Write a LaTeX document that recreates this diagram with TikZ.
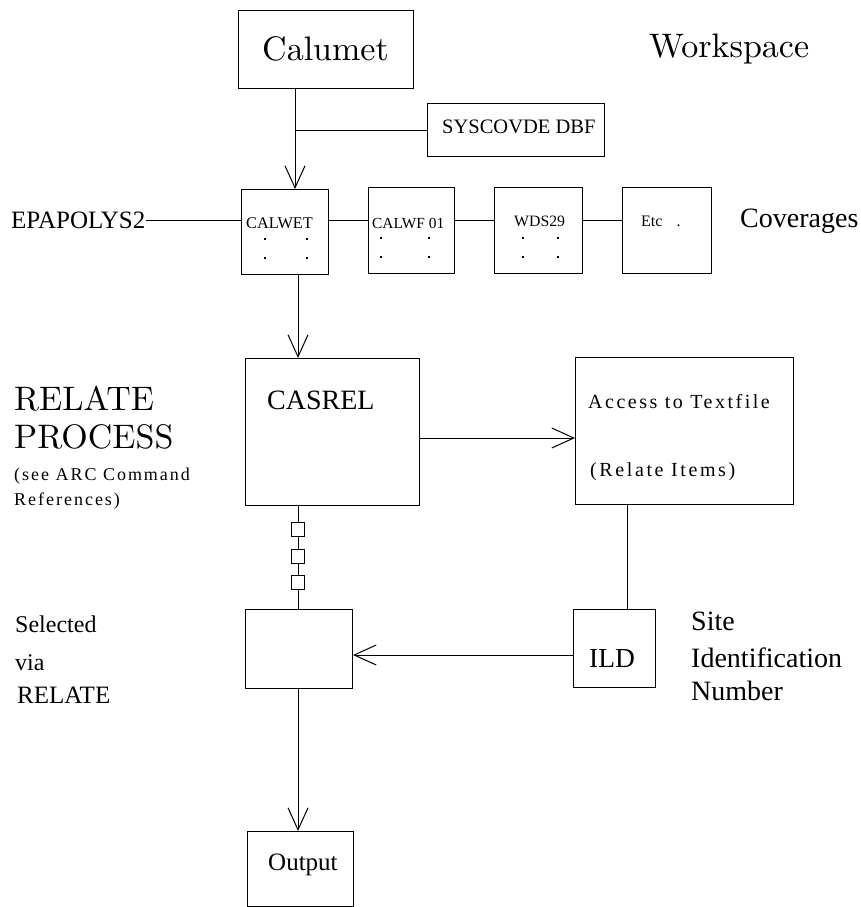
\documentclass[tikz,border=0pt]{standalone}
\usepackage{fontspec}
\newfontfamily\tms{Liberation Serif}
\newfontfamily\cmten{lmroman10-regular}[Extension=.otf]
\usetikzlibrary{arrows.meta}
\begin{document}
\begin{tikzpicture}[x=1pt,y=-1pt,
  box/.style={draw,line width=1pt,anchor=north west,inner sep=0pt},
  lbl/.style={anchor=base west,inner sep=0pt},
  ditto/.style={fill,minimum size=2.3pt,inner sep=0pt},
  conn/.style={line width=1pt},
  arr/.style={line width=1pt,-{Straight Barb[length=22pt,width=20pt,line width=1pt]}},
  fs/.style={font=\cmten\fontsize{#1}{#1}\selectfont},
  tfs/.style={font=\tms\fontsize{#1}{#1}\selectfont}]
\useasboundingbox (0,0) rectangle (861,907);
% boxes
\node[box,minimum width=175pt,minimum height=78pt] (calumet) at (238,10) {};
\node[box,minimum width=177pt,minimum height=53pt] (sys) at (427,103) {};
\node[box,minimum width=87pt,minimum height=85pt] (calwet) at (241,189) {};
\node[box,minimum width=86pt,minimum height=86pt] (calwf) at (368,187) {};
\node[box,minimum width=88pt,minimum height=86pt] (wds) at (494,187) {};
\node[box,minimum width=89pt,minimum height=86pt] (etc) at (622,187) {};
\node[box,minimum width=174pt,minimum height=147pt] (casrel) at (245,358) {};
\node[box,minimum width=218pt,minimum height=147pt] (access) at (575,357) {};
\node[box,minimum width=13pt,minimum height=14pt,anchor=center] (sq1) at (298,529) {};
\node[box,minimum width=13pt,minimum height=14pt,anchor=center] (sq2) at (298,556) {};
\node[box,minimum width=13pt,minimum height=14pt,anchor=center] (sq3) at (298,582.5) {};
\node[box,minimum width=107pt,minimum height=79pt] (low) at (245,609) {};
\node[box,minimum width=82pt,minimum height=78pt] (ild) at (573,609) {};
\node[box,minimum width=106pt,minimum height=75pt] (out) at (247,831) {};
% texts
\node[lbl,fs=34pt] (tcal) at (262,60) {Calumet};
\node[lbl,fs=34pt] (twork) at (649,58) {Workspace};
\node[lbl,tfs=20.5pt] (tsys) at (442,133) {SYSCOVDE DBF};
\node[lbl,tfs=25pt] (tepa) at (11,228) {EPAPOLYS2};
\node[lbl,tfs=16.3pt] (tcalwet) at (246,228) {CALWET};
\node[lbl,tfs=15.4pt] (tcalwf) at (372,228) {CALWF 01};
\node[lbl,tfs=15.8pt] (twds) at (514,226) {WDS29};
\node[lbl,tfs=16pt] (tetc) at (641,226) {Etc\hspace{14pt}.};
\node[lbl,tfs=28pt] (tcov) at (740,227) {Coverages};
\node[lbl,fs=34pt] (trel) at (14,410) {RELATE};
\node[lbl,fs=34pt] (tproc) at (14,448) {PROCESS};
\node[lbl,tfs=18pt] (tsee) at (14,480) {\addfontfeature{LetterSpace=11}(see ARC Command};
\node[lbl,tfs=18pt] (tref) at (14,505) {\addfontfeature{LetterSpace=11}References)};
\node[lbl,tfs=28pt] (tcas) at (267,409) {CASREL};
\node[lbl,tfs=20pt] (tacc) at (588,408) {\addfontfeature{LetterSpace=12.5}Access to Textfile};
\node[lbl,tfs=20pt] (titems) at (590,476) {\addfontfeature{LetterSpace=13}(Relate Items)};
\node[lbl,tfs=24pt] (tsel) at (15,632) {Selected};
\node[lbl,tfs=24pt] (tvia) at (15,670) {via};
\node[lbl,tfs=25pt] (trel2) at (17,703) {RELATE};
\node[lbl,tfs=27.5pt] (tild) at (589,667) {ILD};
\node[lbl,tfs=28pt] (tsite) at (691,630) {Site};
\node[lbl,tfs=28pt] (tident) at (691,667) {Identification};
\node[lbl,tfs=28pt] (tnum) at (691,700) {Number};
\node[lbl,tfs=25pt] (tout) at (268,870) {Output};
% ditto marks
\foreach \x/\y [count=\i] in {265/239,307/239,265/258,307/258,381/238,429/238,381/257,429/257,523/238,558/238,523/257,558/257}
  \node[ditto] (d\i) at (\x,\y) {};
% helper coordinates
\coordinate (cx) at (295,0);
\coordinate (cx2) at (298,0);
\coordinate (cx3) at (627,0);
\coordinate (ylink) at (0,220);
\coordinate (yacc) at (0,438);
\coordinate (yild) at (0,655);
% connectors
\draw[arr] (calumet.south -| cx) -- (calwet.north -| cx);
\draw[conn] (cx |- sys.west) -- (sys.west);
\draw[conn] (tepa.east |- ylink) -- (calwet.west |- ylink);
\draw[conn] (calwet.east |- ylink) -- (calwf.west |- ylink);
\draw[conn] (calwf.east |- ylink) -- (wds.west |- ylink);
\draw[conn] (wds.east |- ylink) -- (etc.west |- ylink);
\draw[arr] (calwet.south -| cx2) -- (casrel.north -| cx2);
\draw[arr] (casrel.east |- yacc) -- (access.west |- yacc);
\draw[conn] (casrel.south -| cx2) -- (sq1.north);
\draw[conn] (sq1.south) -- (sq2.north);
\draw[conn] (sq2.south) -- (sq3.north);
\draw[conn] (sq3.south) -- (low.north -| cx2);
\draw[conn] (access.south -| cx3) -- (ild.north -| cx3);
\draw[arr] (ild.west |- yild) -- (low.east |- yild);
\draw[arr] (low.south -| cx2) -- (out.north -| cx2);
\end{tikzpicture}
\end{document}
